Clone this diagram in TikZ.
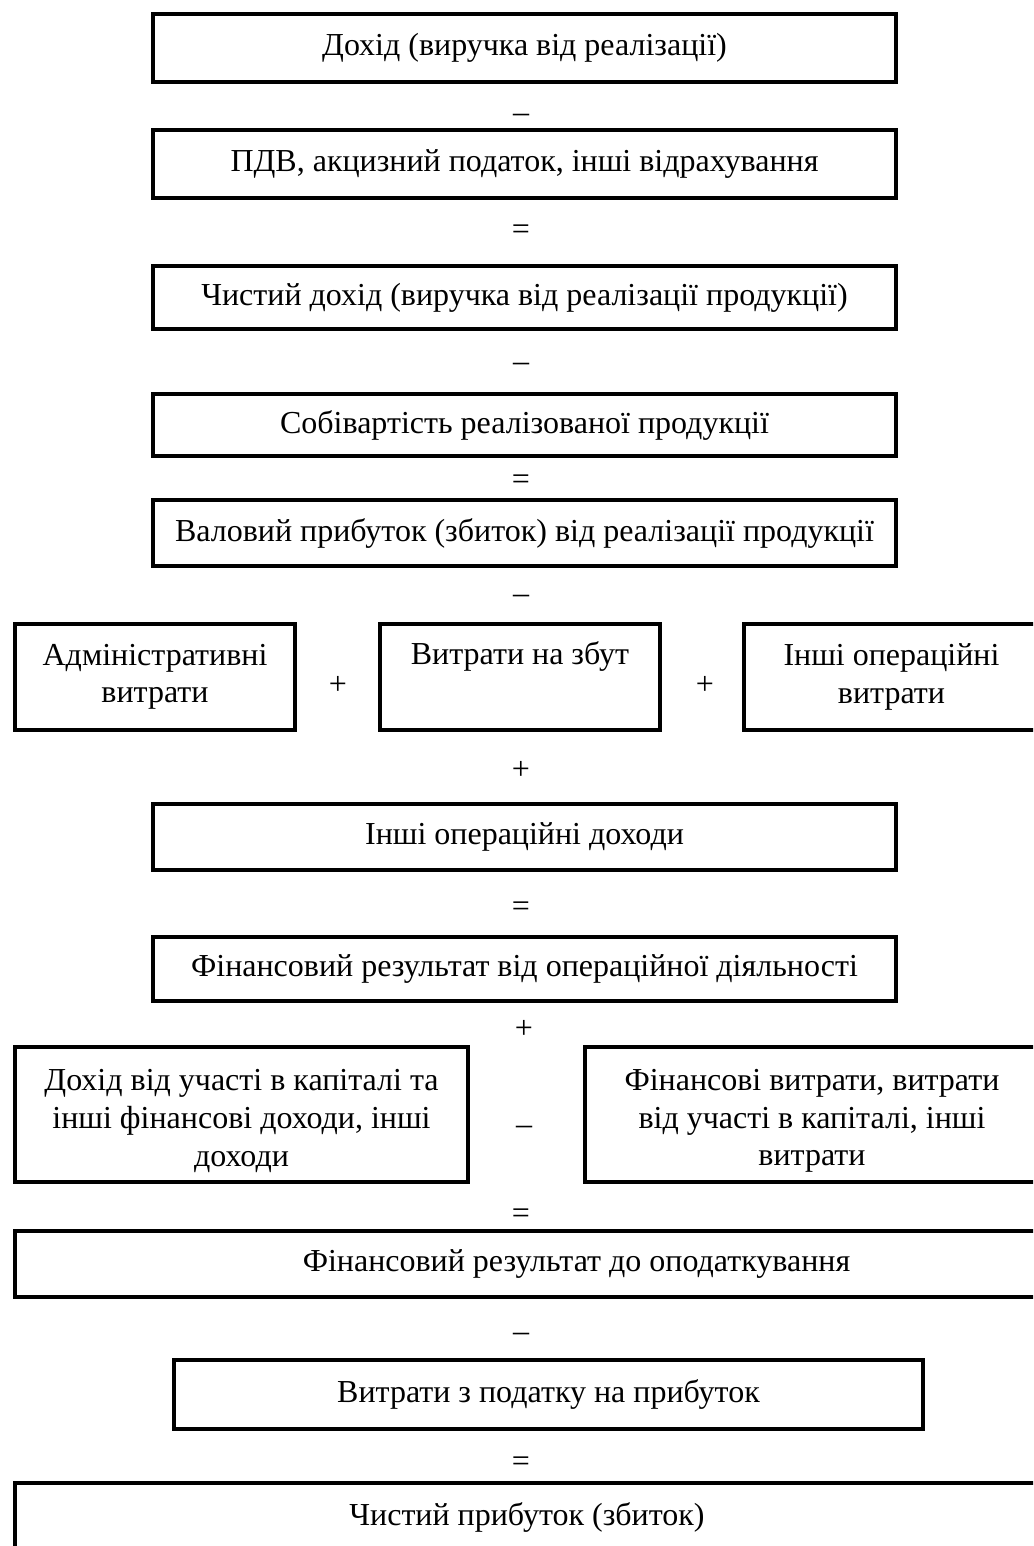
\documentclass[tikz,border=0pt]{standalone}
\usepackage{fontspec}
\setmainfont{Liberation Serif}
\begin{document}
\begin{tikzpicture}[x=0.5pt,y=-0.5pt,
  box/.style={draw=black, line width=2pt, inner sep=0pt, align=center,
    font=\fontsize{16pt}{18.8pt}\selectfont},
  op/.style={anchor=base, inner sep=0pt, font=\fontsize{16pt}{18.8pt}\selectfont}]
\useasboundingbox (0,0) rectangle (1033,1546);
\clip (0,0) rectangle (1033,1546);
% main column
\node[box, minimum width=371.5pt, minimum height=34pt] (b1) at (524.5,48) {Дохід (виручка від реалізації)};
\node[op] (o1) at (521,123) {–};
\node[box, minimum width=371.5pt, minimum height=34pt] (b2) at (524.5,164) {ПДВ, акцизний податок, інші відрахування};
\node[op] (o2) at (521,240) {=};
\node[box, minimum width=371.5pt, minimum height=31.5pt] (b3) at (524.5,297.5) {Чистий дохід (виручка від реалізації продукції)};
\node[op] (o3) at (521,371) {–};
\node[box, minimum width=371.5pt, minimum height=31pt] (b4) at (524.5,425) {Собівартість реалізованої продукції};
\node[op] (o4) at (521,489) {=};
\node[box, minimum width=371.5pt, minimum height=33pt] (b5) at (524.5,533) {Валовий прибуток (збиток) від реалізації продукції};
\node[op] (o5) at (521,603) {–};
% row of three
\node[box, minimum width=140pt, minimum height=53pt] (b6a) at (155,677) {Адміністративні\\витрати};
\node[op] (o6) at (338,694) {+};
\node[box, minimum width=140pt, minimum height=53pt] (b6b) at (520,677) {Витрати на збут\\\strut};
\node[op] (o7) at (705,694) {+};
\node[box, minimum width=147.5pt, minimum height=53pt] (b6c) at (891.5,677) {Інші операційні\\витрати};
\node[op] (o8) at (521,779) {+};
\node[box, minimum width=371.5pt, minimum height=33pt] (b7) at (524.5,837) {Інші операційні доходи};
\node[op] (o9) at (521,916) {=};
\node[box, minimum width=371.5pt, minimum height=32pt] (b8) at (524.5,969) {Фінансовий результат від операційної діяльності};
\node[op] (o10) at (524,1038) {+};
% row of two
\node[box, minimum width=226.5pt, minimum height=67.5pt] (b9a) at (241.5,1114.5) {\rule{0pt}{17pt}Дохід від участі в капіталі та\\інші фінансові доходи, інші\\доходи};
\node[op] (o11) at (524,1134) {–};
\node[box, minimum width=227pt, minimum height=67.5pt] (b9b) at (812,1114.5) {\rule{0pt}{17pt}Фінансові витрати, витрати\\від участі в капіталі, інші\\витрати};
\node[op] (o12) at (521,1223) {=};
\node[box, minimum width=561.5pt, minimum height=33pt] (b10) at (576.5,1264) {Фінансовий результат до оподаткування};
\node[op] (o13) at (521,1341) {–};
\node[box, minimum width=374.5pt, minimum height=34.5pt] (b11) at (548.5,1394.5) {Витрати з податку на прибуток};
\node[op] (o14) at (521,1471) {=};
\node[box, minimum width=512pt, minimum height=34pt] (b12) at (527,1517) {Чистий прибуток (збиток)};
\end{tikzpicture}
\end{document}
